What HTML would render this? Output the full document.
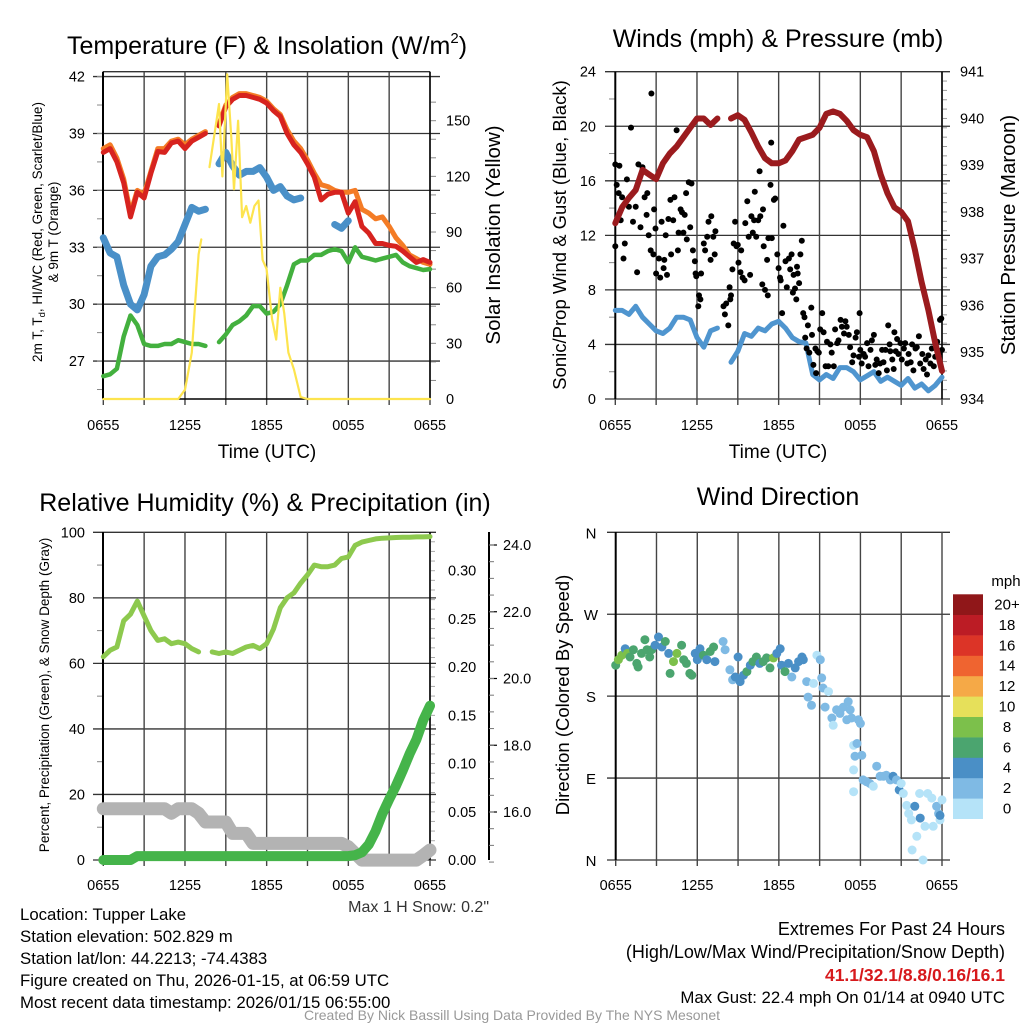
<!DOCTYPE html>
<html><head><meta charset="utf-8">
<style>
body{margin:0;background:#fff;}
svg{display:block;font-family:"Liberation Sans",sans-serif;}
</style></head>
<body>
<svg id="c" width="1024" height="1024" viewBox="0 0 1024 1024" xmlns="http://www.w3.org/2000/svg">
<rect width="1024" height="1024" fill="#fff"/>
<g id="g1"></g>
<g id="g2"></g>
<g id="g3"></g>
<g id="g4"></g>
<g font-size="25" text-anchor="middle" fill="#000">
<text x="267" y="54">Temperature (F) &amp; Insolation (W/m<tspan font-size="15" dy="-11">2</tspan><tspan dy="11">)</tspan></text>
<text x="778" y="47">Winds (mph) &amp; Pressure (mb)</text>
<text x="265" y="511">Relative Humidity (%) &amp; Precipitation (in)</text>
<text x="778" y="505">Wind Direction</text>
</g>
<g fill="#000" text-anchor="middle">
<text x="267" y="458" font-size="19">Time (UTC)</text>
<text x="778" y="458" font-size="19">Time (UTC)</text>
<text font-size="13.5" transform="translate(42,232) rotate(-90)">2m T, T<tspan font-size="9.5" dy="3">d</tspan><tspan dy="-3">, HI/WC (Red, Green, Scarlet/Blue)</tspan></text>
<text font-size="13.5" transform="translate(58,232) rotate(-90)">&amp; 9m T (Orange)</text>
<text font-size="20.5" transform="translate(500,235) rotate(-90)">Solar Insolation (Yellow)</text>
<text font-size="18.5" transform="translate(566,235) rotate(-90)">Sonic/Prop Wind &amp; Gust (Blue, Black)</text>
<text font-size="20.5" transform="translate(1015,235) rotate(-90)">Station Pressure (Maroon)</text>
<text font-size="13.5" transform="translate(49,695) rotate(-90)">Percent, Precipitation (Green), &amp; Snow Depth (Gray)</text>
<text font-size="18.5" transform="translate(569,695) rotate(-90)">Direction (Colored By Speed)</text>
</g>
<g font-size="16.8" fill="#000">
<text x="489" y="912" text-anchor="end" font-size="16" fill="#333">Max 1 H Snow: 0.2"</text>
<text x="20" y="920">Location: Tupper Lake</text>
<text x="20" y="942">Station elevation: 502.829 m</text>
<text x="20" y="964">Station lat/lon: 44.2213; -74.4383</text>
<text x="20" y="986">Figure created on Thu, 2026-01-15, at 06:59 UTC</text>
<text x="20" y="1008">Most recent data timestamp: 2026/01/15 06:55:00</text>
<text x="1005" y="935" text-anchor="end" font-size="18">Extremes For Past 24 Hours</text>
<text x="1005" y="958" text-anchor="end" font-size="18">(High/Low/Max Wind/Precipitation/Snow Depth)</text>
<text x="1005" y="981" text-anchor="end" fill="#d7191c" font-weight="bold" font-size="17.5">41.1/32.1/8.8/0.16/16.1</text>
<text x="1005" y="1003" text-anchor="end">Max Gust: 22.4 mph On 01/14 at 0940 UTC</text>
<text x="512" y="1020" text-anchor="middle" font-size="14" fill="#999">Created By Nick Bassill Using Data Provided By The NYS Mesonet</text>
</g>
</svg>
<script>
// ---------- DATA ----------
const xTickLabels = ["0655","1255","1855","0055","0655"];
// half-hour samples 0..24 h
const tempRed = [38.0,38.2,37.5,36.4,34.6,35.9,35.6,36.9,38.05,38.0,38.5,38.6,38.2,38.6,38.8,39.0,null,39.4,40.4,40.8,41.0,41.0,40.9,40.8,40.6,40.2,39.9,39.0,38.4,38.0,37.4,36.7,35.5,35.8,35.9,35.9,34.8,35.4,34.1,33.75,33.2,33.2,33.1,33.05,32.8,32.5,32.2,32.35,32.2];
const tempOrange = [38.2,38.4,37.7,36.6,34.8,36.0,35.8,37.0,38.2,38.2,38.6,38.7,38.4,38.7,38.9,39.1,null,39.5,40.5,40.9,41.1,41.1,41.0,40.9,40.7,40.3,40.0,39.2,38.6,38.2,37.6,36.9,36.3,36.2,36.0,35.9,35.9,36.0,35.0,34.8,34.5,34.6,34.1,33.5,33.1,32.6,32.4,32.2,32.1];
const tempBlue = [33.5,32.7,32.5,31.0,30.0,29.7,30.5,32.0,32.5,32.6,32.9,33.3,34.2,35.1,34.9,35.0,null,37.4,38.0,37.3,36.8,37.0,37.0,37.2,36.7,36.0,36.2,35.7,35.5,35.6,null,35.8,null,null,34.2,34.0,34.4,null,32.5,null,null,null,null,null,null,null,null,null,null];
const tempGreen = [26.2,26.3,26.6,28.3,29.4,28.9,27.9,27.8,27.8,27.9,27.9,28.1,28.0,27.9,27.9,27.8,null,28.0,28.4,28.9,29.1,29.4,29.9,29.9,29.5,29.6,30.0,31.0,32.1,32.3,32.3,32.6,32.6,32.8,32.9,32.8,32.2,33.0,32.5,32.4,32.3,32.4,32.5,32.6,32.2,32.0,31.9,31.8,31.85];
const solarTimes = [0,5.5,6,6.5,6.75,7,7.2,null,7.8,8.5,8.75,9.1,9.4,9.6,9.9,10.2,10.5,10.8,11.1,11.4,11.7,12,12.4,12.7,13,13.3,13.6,14,14.5,15,24];
const solarVals =  [0,0,5,25,52,78,86,null,125,159,120,175,141,113,150,98,104,95,104,107,75,70,43,32,60,46,25,16,1,0,0];
const pressure = [937.76,938.1,938.3,938.47,938.9,938.8,938.7,939.04,939.25,939.4,939.6,939.8,940.0,940.0,939.86,940.0,null,940.0,940.07,939.97,939.7,939.4,939.15,939.04,939.04,939.1,939.3,939.55,939.6,939.65,939.8,940.1,940.15,940.1,939.95,939.75,939.65,939.6,939.3,938.8,938.4,938.1,938.0,937.8,937.2,936.5,935.9,935.2,934.6];
const windSpeed = [6.5,6.5,6.2,6.8,6.0,5.5,5.0,4.8,5.2,6.0,6.0,5.8,4.5,3.8,5.0,5.2,null,2.7,3.5,4.8,4.6,5.2,5.0,5.5,5.7,5.2,4.5,4.2,4.1,1.8,1.4,1.8,1.5,2.3,2.3,2.0,1.4,1.7,2.0,1.3,1.6,1.3,1.0,1.5,0.8,1.1,0.6,1.0,1.6];
const gustTimes = [0,0,0.3,0.1,0.25,0.4,0.5,0.7,0.85,0.6,1,1.15,1.3,1.5,1.6,1.7,1.85,2,2.15,2.3,2.35,2.45,2.6,2.65,2.8,2.85,2.95,3,3.2,3.3,3.4,3.55,3.6,3.7,3.8,3.9,4.05,4.1,4.25,4.35,4.5,4.6,4.65,4.8,4.9,5.0,5.1,5.2,5.25,5.4,5.5,5.6,5.7,5.85,5.9,5.95,6.1,6.15,6.25,6.3,6.5,6.6,6.75,6.85,7.0,7.05,7.2,7.3,7.35,7.95,8.05,8.15,8.3,8.4,8.45,8.5,8.6,8.7,8.8,8.9,9.0,9.05,9.2,9.25,9.35,9.5,9.55,9.7,9.8,9.9,10.0,10.1,10.2,10.25,10.35,10.5,10.6,10.65,10.8,10.85,10.9,11.0,11.15,11.2,11.25,11.4,11.45,11.5,11.65,11.75,11.9,12.0,12.1,12.15,12.25,12.35,12.5,12.6,12.75,12.85,12.95,13.05,13.1,13.2,13.3,13.35,13.4,13.5,13.6,13.7,13.8,13.9,13.95,14.05,14.15,14.25,14.4,14.45,14.55,14.7,14.75,14.85,14.95,15.05,15.2,15.3,15.45,15.55,15.65,15.8,15.9,16.05,16.15,16.3,16.4,16.55,16.65,16.8,16.9,17.0,17.15,17.25,17.4,17.5,17.65,17.75,17.9,17.95,18.0,18.1,18.25,18.35,18.5,18.6,18.75,18.85,19.0,19.1,19.2,19.35,19.45,19.6,19.7,19.85,19.95,20.05,20.15,20.2,20.35,20.45,20.5,20.6,20.7,20.8,20.95,21.05,21.2,21.3,21.45,21.55,21.7,21.8,21.9,22.05,22.15,22.3,22.4,22.55,22.65,22.8,22.9,23.0,23.15,23.25,23.4,23.5,23.65,23.75,23.85,23.95,24.0];
const gustVals = [11.2,17.2,17.1,15.7,15.1,13.1,14.8,11.4,16.1,10.3,14.1,19.9,13.0,14.1,9.3,17.2,12.6,17.0,14.8,13.5,15.1,12.0,10.9,22.4,10.6,13.9,12.5,9.2,10.3,8.9,13.0,9.6,10.2,12.0,9.1,13.2,14.6,10.6,13.1,14.8,19.7,10.9,12.2,13.9,13.7,12.2,13.5,15.1,11.7,15.9,12.6,15.8,10.9,10.1,9.2,9.0,6.8,7.6,7.3,9.2,11.4,10.9,11.9,13.0,10.2,13.4,11.9,10.6,12.3,6.8,6.2,7.0,5.4,8.2,7.3,7.6,9.5,11.4,13.0,11.2,11.3,10.0,9.3,10.9,8.9,8.7,12.9,14.5,11.9,9.1,13.4,12.2,13.1,15.2,11.9,13.1,16.7,13.4,8.4,13.9,11.2,8.0,10.2,7.6,11.8,15.7,18.8,11.8,14.6,14.7,10.6,9.6,8.9,8.7,6.3,12.7,10.1,8.2,10.3,9.5,10.6,7.8,9.1,8.1,7.3,9.7,9.2,8.5,10.6,11.6,6.3,6.0,4.5,3.7,5.4,3.4,6.7,4.7,2.5,3.7,1.9,3.5,3.4,5.1,6.3,4.9,2.4,4.2,2.4,4.0,3.4,2.4,5.1,4.1,4.3,5.8,5.3,4.8,5.7,5.3,4.7,3.8,2.7,3.2,4.5,4.9,3.1,6.3,3.6,2.6,3.3,3.1,4.1,2.4,3.6,4.3,4.7,2.5,2.9,1.9,2.6,3.6,2.7,3.6,2.1,5.4,4.0,3.5,2.9,2.2,4.9,3.5,4.4,3.3,4.1,2.9,3.7,4.1,2.6,3.3,2.7,4.0,2.1,3.7,3.8,4.6,2.6,3.3,2.2,2.9,1.8,3.2,2.6,3.7,2.4,3.1,4.2,3.3,5.8,5.9,3.6];
const rhVals = [62,64,65,73,75,79,74.5,70,67,67.5,66,66.5,66,64.5,63.5,null,63.5,63,63.5,63,64,65,65.5,64.5,66,70.5,77,80,81.5,84.5,87,90,89.5,89.5,90,92,92.5,96,97,97.5,98,98.2,98.3,98.4,98.5,98.5,98.6,98.6,98.7];
const precipVals = [0,0,0,0,0,0.004,0.004,0.004,0.004,0.004,0.004,0.004,0.004,0.004,0.004,0.004,0.004,0.004,0.004,0.004,0.004,0.004,0.004,0.004,0.004,0.004,0.004,0.004,0.004,0.004,0.004,0.004,0.004,0.004,0.004,0.004,0.004,0.005,0.008,0.016,0.03,0.048,0.063,0.077,0.093,0.11,0.125,0.145,0.16];
const snowVals = [16.1,16.1,16.1,16.1,16.1,16.1,16.1,16.1,16.1,16.1,15.96,16.1,16.1,16.1,15.96,15.7,15.7,15.7,15.7,15.36,15.36,15.36,15.06,15.06,15.06,15.06,15.06,15.06,15.06,15.06,15.06,15.06,15.06,15.06,15.06,15.06,14.96,14.76,14.56,14.56,14.56,14.56,14.56,14.56,14.56,14.56,14.56,14.7,14.86];
const dirTimes = [0,0.2,0.45,0.7,0.85,1.05,1.3,1.55,1.65,1.9,2.15,2.3,2.5,2.65,2.9,3.15,3.4,3.65,3.9,4.0,4.25,4.5,4.85,5.0,5.2,5.45,5.6,5.85,6.0,6.2,6.45,6.7,6.95,7.2,7.3,7.9,8.05,8.4,8.6,8.8,9.0,9.15,9.4,9.65,9.9,10.1,10.35,10.6,10.85,11.1,11.35,11.6,11.85,12.1,12.2,12.45,12.7,12.95,13.2,13.45,13.7,13.8,14.05,14.15,14.4,14.55,14.8,15.05,15.15,15.25,15.4,15.65,15.9,16.0,16.25,16.5,16.75,17.0,17.1,17.25,17.35,17.5,17.75,17.85,18.0,17.6,18.1,17.5,17.5,18.2,18.45,18.7,18.95,19.2,19.45,19.7,19.9,20.2,20.4,20.65,20.85,21.0,21.15,21.4,21.55,21.75,21.8,22.0,22.15,22.35,22.4,22.6,22.75,22.95,23.25,23.35,23.6,23.75,23.85,24.0,23.85];
const dirVals = [214,220,225,232,227,223,231,216,212,227,242,231,223,231,236,245,234,240,227,205,218,227,236,220,216,205,203,227,220,232,225,220,229,234,218,240,231,209,198,201,223,196,203,207,214,218,223,216,218,222,211,222,227,232,214,207,216,201,211,218,223,220,196,179,170,194,225,220,200,189,168,185,156,148,165,161,168,154,174,165,156,126,128,154,150,114,115,99,75,88,86,84,81,103,92,92,93,88,92,88,77,84,73,60,51,44,11,59,26,73,46,0,37,73,68,37,59,51,44,66,49];
const dirSpeed = [7,8.5,8.5,5,8.5,7,7,7,7,7,7,7,7,7,5,5,5,7,5,7,8.5,8.5,7,7,7,7,7,5,5,5,7,5,7,7,5,3,3,3,3,5,5,5,5,7,5,7,7,5,7,7,7,8.5,5,5,5,7,5,3,5,5,5,5,3,3,3,1,1,3,3,3,3,1,3,1,3,3,3,3,3,3,3,1,3,3,3,3,3,1,1,3,3,3,1,3,3,3,3,3,5,3,5,1,1,1,1,1,1,5,1,1,5,1,1,1,1,1,3,3,1,1,5];
const cbLabels = ["0","2","4","6","8","10","12","14","16","18","20+"];
const cbColors = ["#b5e3f8","#7fbae4","#4a8fc6","#4ba56f","#7cc04b","#e6e05a","#f5a947","#ef6430","#dc3427","#bc1c25","#901719"];
const tempTicks=[27,30,33,36,39,42], solarTicks=[0,30,60,90,120,150];
const windTicks=[0,4,8,12,16,20,24], presTicks=[934,935,936,937,938,939,940,941];
const rhTicks=[0,20,40,60,80,100], precTicks=[0,0.05,0.1,0.15,0.2,0.25,0.3], snowTicks=[16,18,20,22,24];
const dirTicks=[0,90,180,270,360], dirLabels=["N","E","S","W","N"];

// ---------- HELPERS ----------
const NS="http://www.w3.org/2000/svg";
function el(parent,tag,attrs,name){
  const e=document.createElementNS(NS,tag);
  for(const k in attrs) e.setAttribute(k,attrs[k]);
  
  
  parent.appendChild(e);return e;
}
function txt(parent,x,y,s,anchor,size,name){
  const t=el(parent,'text',{x:x,y:y,'text-anchor':anchor,'font-size':size,fill:'#000'},name);
  t.textContent=s;return t;
}
function halfHours(){const a=[];for(let i=0;i<=48;i++)a.push(i/2);return a;}
const HH=halfHours();
function series(parent,ts,vs,fx,fy,color,w,name){
  let d="",pen=false;
  for(let i=0;i<vs.length;i++){
    if(vs[i]===null||ts[i]===null){pen=false;continue;}
    d+=(pen?"L":"M")+fx(ts[i]).toFixed(1)+","+fy(vs[i]).toFixed(1);pen=true;
  }
  el(parent,'path',{d:d,fill:'none',stroke:color,'stroke-width':w,'stroke-linecap':'round','stroke-linejoin':'round'},name);
}
function xAxis(g,fx,y0,y1,labelY){
  for(let h=0;h<=24;h+=3){
    el(g,'line',{x1:fx(h),x2:fx(h),y1:y0,y2:y1+6,stroke:'#444','stroke-width':1.4},'x-gridline');
  }
  for(let i=0;i<xTickLabels.length;i++) txt(g,fx(i*6),labelY,xTickLabels[i],'middle',14.5,'x-tick-label');
}
function hGrid(g,ticks,fy,x0,x1,name){
  for(const t of ticks) el(g,'line',{x1:x0,x2:x1,y1:fy(t),y2:fy(t),stroke:'#333','stroke-width':1.3},name);
}

// ---------- PANEL 1 ----------
const g1=document.getElementById('g1');
const x1=h=>103.3+h*326.7/24, yT=t=>399-(t-25)*56.9/3, yS=w=>399-w*278.3/150;
hGrid(g1,tempTicks,yT,93,440,'temp-gridline');
el(g1,'line',{x1:103,x2:430,y1:71.7,y2:71.7,stroke:'#333','stroke-width':1.3},'top-frame');
xAxis(g1,x1,71.7,399,430);
for(const t of tempTicks) txt(g1,85,yT(t)+5,String(t),'end',14.5,'temp-tick-label');
for(let t=25.5;t<42.3;t+=1.5) el(g1,'line',{x1:97,x2:103,y1:yT(t),y2:yT(t),stroke:'#888'},'temp-minor-tick');
for(const w of solarTicks) txt(g1,446,yS(w)+5,String(w),'start',14.5,'solar-tick-label');
for(let w=10;w<170;w+=10) el(g1,'line',{x1:430,x2:436,y1:yS(w),y2:yS(w),stroke:'#888'},'solar-minor-tick');
el(g1,'line',{x1:103,x2:103,y1:71.7,y2:399,stroke:'#000','stroke-width':2},'left-axis');
el(g1,'line',{x1:430,x2:430,y1:71.7,y2:399,stroke:'#000','stroke-width':1.5},'right-axis');
el(g1,'line',{x1:103,x2:430,y1:399,y2:399,stroke:'#000','stroke-width':1.5},'bottom-axis');
series(g1,HH,tempGreen,x1,yT,'#43b03e',4.5,'dewpoint-line');
series(g1,HH,tempBlue,x1,yT,'#4a90c8',7,'wind-chill-line');
series(g1,HH,tempOrange,x1,yT,'#f47c26',5,'temp-9m-line');
series(g1,HH,tempRed,x1,yT,'#d7231f',5,'temp-2m-line');
series(g1,solarTimes,solarVals,x1,yS,'#fde44e',2.2,'solar-line');

// ---------- PANEL 2 ----------
const g2=document.getElementById('g2');
const x2=h=>615.3+h*326.7/24, yW=m=>399-m*327.3/24, yP=p=>399-(p-934)*327.3/7;
hGrid(g2,windTicks,yW,605,950,'wind-gridline');
xAxis(g2,x2,71.7,399,430);
for(const t of windTicks) txt(g2,596,yW(t)+5,String(t),'end',14.5,'wind-tick-label');
for(let t=2;t<24;t+=4) el(g2,'line',{x1:609,x2:615,y1:yW(t),y2:yW(t),stroke:'#888'},'wind-minor-tick');
for(const p of presTicks) txt(g2,960,yP(p)+5,String(p),'start',14.5,'pressure-tick-label');
for(let p=934.2;p<941;p+=0.2) el(g2,'line',{x1:942,x2:947,y1:yP(p),y2:yP(p),stroke:'#999'},'pressure-minor-tick');
el(g2,'line',{x1:615.3,x2:615.3,y1:71.7,y2:399,stroke:'#000','stroke-width':2},'left-axis');
el(g2,'line',{x1:942,x2:942,y1:71.7,y2:399,stroke:'#000','stroke-width':1.5},'right-axis');
series(g2,HH,windSpeed,x2,yW,'#4f95cf',5,'wind-speed-line');
for(let i=0;i<gustVals.length;i++){
  el(g2,'circle',{cx:x2(gustTimes[i]).toFixed(1),cy:yW(gustVals[i]).toFixed(1),r:3,fill:'#000'},'gust-dot');
}
series(g2,HH,pressure,x2,yP,'#9b1b1e',6,'pressure-line');

// ---------- PANEL 3 ----------
const g3=document.getElementById('g3');
const yR=r=>860-r*3.277, yPr=v=>860-v*289.3/0.3, ySn=s=>812-(s-16)*33.375;
hGrid(g3,rhTicks,yR,93,436,'rh-gridline');
xAxis(g3,x1,532,860,890);
for(const t of rhTicks) txt(g3,85,yR(t)+5,String(t),'end',14.5,'rh-tick-label');
for(let t=10;t<100;t+=20) el(g3,'line',{x1:97,x2:103,y1:yR(t),y2:yR(t),stroke:'#888'},'rh-minor-tick');
for(const v of precTicks) txt(g3,448,yPr(v)+5,v.toFixed(2),'start',14.5,'precip-tick-label');
for(let v=0.01;v<0.34;v+=0.01) el(g3,'line',{x1:430,x2:435,y1:yPr(v),y2:yPr(v),stroke:'#aaa'},'precip-minor-tick');
el(g3,'line',{x1:489,x2:489,y1:532,y2:860,stroke:'#000','stroke-width':2},'snow-axis');
for(const s of snowTicks) {txt(g3,503,ySn(s)+5,s.toFixed(1),'start',14.5,'snow-tick-label');
  el(g3,'line',{x1:489,x2:497,y1:ySn(s),y2:ySn(s),stroke:'#000','stroke-width':1.2},'snow-tick');}
for(let s=14.5;s<24.4;s+=0.5) el(g3,'line',{x1:489,x2:494,y1:ySn(s),y2:ySn(s),stroke:'#777'},'snow-minor-tick');
el(g3,'line',{x1:103,x2:103,y1:532,y2:860,stroke:'#000','stroke-width':2},'left-axis');
el(g3,'line',{x1:430,x2:430,y1:532,y2:860,stroke:'#000','stroke-width':1.5},'right-axis');
series(g3,HH,snowVals,x1,ySn,'#b3b3b3',13,'snow-depth-line');
series(g3,HH,precipVals,x1,yPr,'#45b44a',10,'precip-line');
series(g3,HH,rhVals,x1,yR,'#8dc94e',5,'rh-line');

// ---------- PANEL 4 ----------
const g4=document.getElementById('g4');
const x4=h=>615.7+h*326.3/24, yD=d=>860-d*327.7/360;
hGrid(g4,dirTicks,yD,607,950,'direction-gridline');
xAxis(g4,x4,532,860,890);
el(g4,'line',{x1:615.7,x2:615.7,y1:532,y2:860,stroke:'#000','stroke-width':2},'left-axis');
for(let i=0;i<dirTicks.length;i++) txt(g4,591,yD(dirTicks[i])+6,dirLabels[i],'middle',15,'direction-tick-label');
for(let i=0;i<dirVals.length;i++){
  const ci=Math.min(10,Math.floor(dirSpeed[i]/2));
  el(g4,'circle',{cx:x4(dirTimes[i]).toFixed(1),cy:yD(dirVals[i]).toFixed(1),r:4.5,fill:cbColors[ci]},'direction-dot');
}
// colorbar
const cbTop=594.3, cbH=(818.7-594.3)/11;
txt(g4,1006,586,'mph','middle',15,'colorbar-title');
for(let i=0;i<cbColors.length;i++){
  const y=cbTop+(10-i)*cbH;
  el(g4,'rect',{x:953,y:y.toFixed(1),width:30,height:(cbH+0.3).toFixed(1),fill:cbColors[i]},'colorbar-box');
  txt(g4,1007,(y+cbH/2+5).toFixed(1),cbLabels[i],'middle',15,'colorbar-label');
}
</script>
</body></html>
